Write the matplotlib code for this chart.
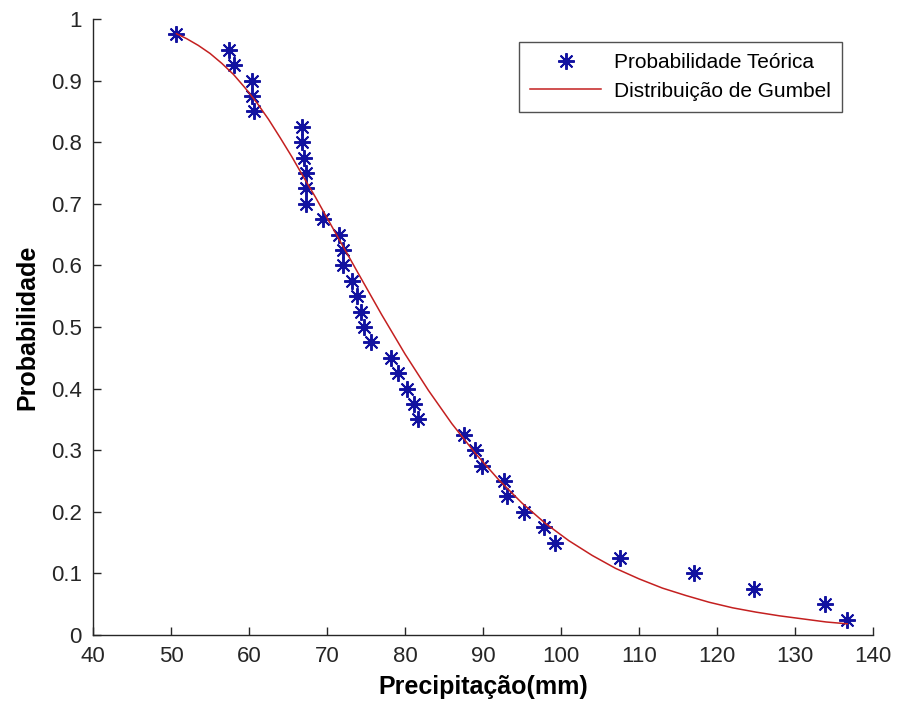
import matplotlib
matplotlib.use('Agg')
import matplotlib.pyplot as plt

plt.rcParams['font.family'] = ['Liberation Sans', 'DejaVu Sans']

# observed precipitation (mm) and its theoretical probability
precip = [50.6, 57.4, 58.1, 60.4, 60.4, 60.6, 66.8, 66.8, 67.0, 67.3, 67.3, 67.3,
          69.5, 71.5, 72.0, 72.1, 73.2, 73.8, 74.4, 74.7, 75.6, 78.2, 79.1, 80.2,
          81.1, 81.6, 87.5, 89.0, 89.9, 92.7, 93.1, 95.2, 97.8, 99.2, 107.6, 117.0,
          124.7, 133.9, 136.7]
prob = [0.975, 0.95, 0.925, 0.9, 0.875, 0.85, 0.825, 0.8, 0.775, 0.75, 0.725, 0.7,
        0.675, 0.65, 0.625, 0.6, 0.575, 0.55, 0.525, 0.5, 0.475, 0.45, 0.425, 0.4,
        0.375, 0.35, 0.325, 0.3, 0.275, 0.25, 0.225, 0.2, 0.175, 0.15, 0.125, 0.1,
        0.075, 0.05, 0.025]

# fitted Gumbel curve
gumbel_x = [50.7, 52, 53.5, 55, 56.5, 58, 59.5, 61, 62.5, 64, 65.5, 67, 68.5, 70,
            72, 74, 77, 80, 83, 86, 89, 92, 95, 98, 101, 104, 107, 110, 113, 116,
            119, 122, 125, 128, 131, 134, 136.7]
gumbel_p = [0.976, 0.968, 0.957, 0.944, 0.928, 0.910, 0.888, 0.864, 0.837, 0.807,
            0.776, 0.743, 0.711, 0.677, 0.632, 0.587, 0.520, 0.456, 0.397, 0.343,
            0.295, 0.252, 0.214, 0.181, 0.153, 0.129, 0.108, 0.091, 0.076, 0.064,
            0.053, 0.044, 0.037, 0.031, 0.026, 0.021, 0.018]

fig = plt.figure(figsize=(8.98, 7.15), dpi=100)
ax = fig.add_axes([0.1036, 0.112, 0.8686, 0.8615])

ax.plot(precip, prob, linestyle='none', marker=(8, 2, 0), markersize=12,
        markeredgewidth=1.4, color='#1212a0', label='Probabilidade Teórica')
ax.plot(gumbel_x, gumbel_p, color='#c42020', linewidth=1.1,
        label='Distribuição de Gumbel')

ax.set_xlim(40, 140)
ax.set_ylim(0, 1)
ax.set_xticks(range(40, 141, 10))
ax.set_yticks([i / 10 for i in range(11)])
ax.set_yticklabels(['0', '0.1', '0.2', '0.3', '0.4', '0.5', '0.6', '0.7', '0.8', '0.9', '1'])

for s in ['top', 'right']:
    ax.spines[s].set_visible(False)
for s in ['left', 'bottom']:
    ax.spines[s].set_color('#262626')
    ax.spines[s].set_linewidth(1.0)
ax.tick_params(direction='in', length=6, width=1, colors='#262626',
               labelsize=16, pad=8)

ax.set_xlabel('Precipitação(mm)', fontsize=18, fontweight='bold', labelpad=6)
ax.set_ylabel('Probabilidade', fontsize=18, fontweight='bold', labelpad=8)

leg = ax.legend(loc='upper right', bbox_to_anchor=(0.96, 0.963), borderaxespad=0,
                fontsize=15, frameon=True, fancybox=False, handlelength=3.4,
                borderpad=0.55, labelspacing=0.45, handletextpad=0.6)
leg.get_frame().set_edgecolor('#262626')
leg.get_frame().set_linewidth(1.0)

fig.savefig('out.png', dpi=100)
